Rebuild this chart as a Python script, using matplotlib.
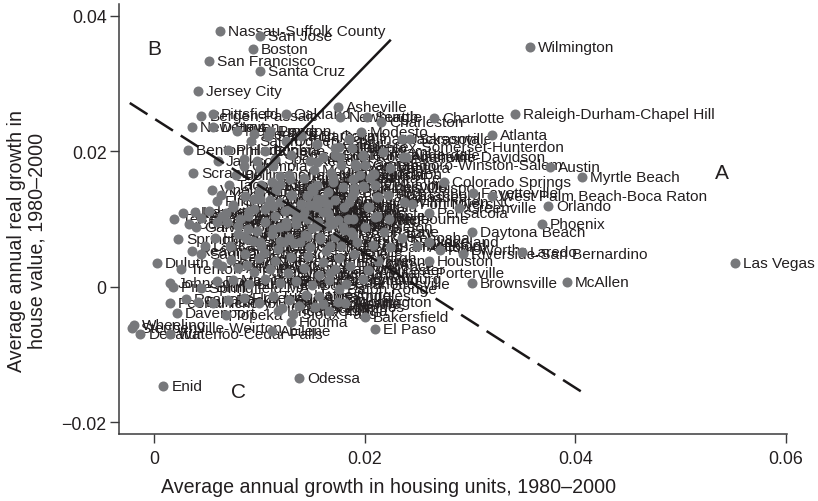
#Housing value growth vs housing unit growth, labelled metro scatter
import matplotlib
matplotlib.use("Agg")
import matplotlib.pyplot as plt

plt.rcParams["font.family"] = ["Liberation Sans", "DejaVu Sans"]

ink = "#231f20"
dot = "#77787b"

outer_names = ["Nassau-Suffolk County", "San Jose", "Boston", "San Francisco", "Santa Cruz", "Wilmington",
               "Jersey City", "Pittsfield", "Oakland", "Asheville", "Newburgh", "Seattle",
               "Charlotte", "Raleigh-Durham-Chapel Hill", "Charleston", "Atlanta", "Sarasota", "Jacksonville",
               "Middlesex-Somerset-Hunterdon", "Greensboro-Winston-Salem", "Nashville-Davidson", "Austin", "Myrtle Beach", "Las Vegas",
               "McAllen", "Brownsville", "Phoenix", "Orlando", "West Palm Beach-Boca Raton", "Colorado Springs",
               "Fayetteville", "Greenville", "Daytona Beach", "Laredo", "Riverside-San Bernardino", "Fort Worth",
               "San Antonio", "Lakeland", "Houston", "Fresno", "Visalia-Tulare-Porterville", "Bakersfield",
               "El Paso", "Baton Rouge", "Los Angeles", "Albany", "Houma", "Abilene",
               "Odessa", "Enid", "Wheeling", "Steubenville-Weirton", "Decatur", "Waterloo-Cedar Falls",
               "Davenport", "Topeka", "Duluth", "Trenton", "Johnstown", "Pine Bluff",
               "Peoria", "Kankakee", "Terre Haute", "Altoona", "Springfield", "Scranton",
               "Vineland", "Flint", "Jackson", "Benton Harbor", "Philadelphia", "Bergen-Passaic",
               "New Haven", "Detroit", "New London", "Santa Barbara"]
outer_x = [.0063, .0101, .0094, .0052, .0101, .0357,
           .0042, .0056, .0125, .0175, .0177, .0202,
           .0266, .0343, .0216, .0321, .0243, .0235,
           .0176, .0200, .0239, .0376, .0406, .0552,
           .0392, .0302, .0368, .0374, .0321, .0275,
           .0303, .0290, .0302, .0349, .0293, .0272,
           .0224, .0261, .0261, .0213, .0167, .0200,
           .0210, .0176, .0157, .0181, .0130, .0112,
           .0138, .0009, -.0019, -.0021, -.0013, .0015,
           .0022, .0068, .0003, .0026, .0015, .0018,
           .0015, .0039, .0019, .0028, .0023, .0037,
           .0055, .0060, .0061, .0032, .0070, .0045,
           .0036, .0056, .0079, .0108]
outer_y = [.0377, .0370, .0351, .0333, .0318, .0353,
           .0289, .0255, .0255, .0265, .0250, .0250,
           .0249, .0255, .0243, .0224, .0218, .0218,
           .0206, .0179, .0191, .0176, .0162, .0035,
           .0007, .0005, .0092, .0119, .0134, .0154,
           .0138, .0116, .0080, .0051, .0048, .0054,
           .0058, .0066, .0038, .0038, .0020, -.0044,
           -.0063, -.0004, -.0014, -.0024, -.0052, -.0066,
           -.0135, -.0147, -.0057, -.0061, -.0070, -.0070,
           -.0039, -.0042, .0035, .0026, .0006, .0000,
           -.0024, .0110, .0100, .0108, .0070, .0168,
           .0142, .0126, .0185, .0201, .0201, .0252,
           .0235, .0235, .0229, .0222]

#Points in the crowded middle, names mostly unreadable so estimated
inner_names = ["Minneapolis", "Portland", "Sacramento", "Denver", "Dallas", "Tampa",
               "Memphis", "Richmond", "Norfolk", "Baltimore", "Washington", "Tucson",
               "Albuquerque", "Salt Lake City", "Kansas City", "Indianapolis", "Columbus", "Cincinnati",
               "Louisville", "Lexington", "Knoxville", "Chattanooga", "Birmingham", "Mobile",
               "Montgomery", "Savannah", "Augusta", "Columbia", "Spartanburg", "Wilmington NC",
               "Fort Myers", "Pensacola", "Tallahassee", "Gainesville", "Ocala", "Naples",
               "Melbourne", "Fort Lauderdale", "Miami", "Anaheim", "San Diego", "Ventura",
               "Stockton", "Modesto", "Salinas", "Vallejo", "Santa Rosa", "Reno",
               "Boise City", "Spokane", "Eugene", "Salem", "Olympia", "Bellingham",
               "Tacoma", "Yakima", "Medford", "Provo", "Ogden", "Fort Collins",
               "Greeley", "Boulder", "Pueblo", "Santa Fe", "Las Cruces", "Lubbock",
               "Amarillo", "Wichita", "Tulsa", "Oklahoma City", "Little Rock", "Shreveport",
               "New Orleans", "Lafayette", "Lake Charles", "Beaumont", "Galveston", "Corpus Christi",
               "Waco", "Killeen", "Tyler", "Longview", "Bryan", "Madison",
               "Milwaukee", "Green Bay", "Appleton", "Racine", "Kenosha", "Rockford",
               "Chicago", "Gary", "Fort Wayne", "South Bend", "Evansville", "Lansing",
               "Grand Rapids", "Ann Arbor", "Kalamazoo", "Toledo", "Akron", "Cleveland",
               "Dayton", "Canton", "Youngstown", "Pittsburgh", "Erie", "Harrisburg",
               "Lancaster", "Reading", "York", "Allentown", "Buffalo", "Rochester",
               "Syracuse", "Utica", "Binghamton", "Hartford", "Providence", "Worcester",
               "Springfield MA", "Portland ME", "Manchester", "Burlington", "Lowell", "Newark",
               "Atlantic City", "Dover", "Hagerstown", "Charlottesville", "Lynchburg", "Roanoke",
               "Durham", "Hickory", "Rocky Mount", "Florence", "Huntsville", "Tuscaloosa",
               "Biloxi", "Hattiesburg", "Clarksville", "Bloomington", "Champaign", "Iowa City",
               "Des Moines", "Omaha", "Lincoln", "Sioux Falls", "Fargo", "Billings",
               "St. Louis", "St. Cloud", "Rochester MN", "La Crosse", "Honolulu", "Anchorage",
               "Charleston WV", "Huntington", "Parkersburg", "Sharon", "Mansfield", "Lima",
               "Muncie", "Kokomo", "Elkhart", "Saginaw", "Jackson MI", "Benton",
               "Yuba City", "Chico", "Redding", "Merced", "Yolo", "San Luis Obispo"]
inner_x = [.0100, .0110, .0120, .0130, .0140, .0150,
           .0160, .0170, .0180, .0190, .0105, .0115,
           .0125, .0135, .0145, .0155, .0165, .0175,
           .0185, .0095, .0112, .0128, .0142, .0152,
           .0168, .0178, .0196, .0210, .0222, .0237,
           .0245, .0261, .0213, .0199, .0204, .0212,
           .0223, .0198, .0217, .0236, .0192, .0224,
           .0209, .0197, .0185, .0172, .0160, .0148,
           .0130, .0115, .0105, .0092, .0085, .0078,
           .0071, .0064, .0095, .0110, .0125, .0140,
           .0155, .0172, .0188, .0205, .0120, .0135,
           .0150, .0165, .0180, .0090, .0082, .0075,
           .0068, .0060, .0052, .0045, .0040, .0033,
           .0085, .0098, .0112, .0128, .0143, .0158,
           .0172, .0187, .0200, .0218, .0235, .0250,
           .0102, .0118, .0133, .0148, .0163, .0178,
           .0193, .0208, .0072, .0086, .0100, .0115,
           .0130, .0146, .0160, .0176, .0190, .0058,
           .0048, .0036, .0065, .0080, .0095, .0110,
           .0127, .0142, .0157, .0172, .0186, .0203,
           .0045, .0060, .0075, .0090, .0105, .0120,
           .0135, .0150, .0166, .0182, .0198, .0030,
           .0042, .0056, .0070, .0085, .0100, .0113,
           .0128, .0144, .0160, .0175, .0122, .0138,
           .0153, .0166, .0118, .0132, .0146, .0160,
           .0108, .0124, .0140, .0156, .0170, .0184,
           .0089, .0102, .0116, .0131, .0147, .0163,
           .0069, .0080, .0094, .0045, .0060, .0073,
           .0088, .0104, .0120, .0155, .0170, .0190]
inner_y = [.0140, .0128, .0152, .0136, .0122, .0146,
           .0130, .0155, .0118, .0140, .0115, .0105,
           .0095, .0110, .0100, .0118, .0108, .0098,
           .0125, .0130, .0155, .0165, .0160, .0172,
           .0168, .0180, .0165, .0150, .0135, .0125,
           .0122, .0108, .0132, .0147, .0117, .0104,
           .0100, .0194, .0199, .0191, .0178, .0175,
           .0166, .0228, .0218, .0205, .0192, .0185,
           .0195, .0188, .0200, .0215, .0178, .0165,
           .0150, .0135, .0225, .0230, .0215, .0222,
           .0210, .0195, .0205, .0160, .0088, .0092,
           .0086, .0090, .0083, .0112, .0100, .0120,
           .0108, .0095, .0112, .0102, .0088, .0092,
           .0075, .0082, .0078, .0072, .0076, .0070,
           .0074, .0080, .0088, .0080, .0072, .0060,
           .0060, .0056, .0064, .0058, .0052, .0060,
           .0066, .0062, .0060, .0048, .0042, .0038,
           .0044, .0046, .0036, .0042, .0048, .0072,
           .0060, .0052, .0030, .0028, .0022, .0026,
           .0020, .0028, .0018, .0026, .0030, .0024,
           -.0002, .0008, .0010, .0004, .0012, .0006,
           .0008, .0002, .0010, .0004, .0012, -.0018,
           -.0022, -.0024, -.0020, -.0016, -.0024, -.0014,
           -.0020, -.0012, -.0026, -.0022, -.0032, -.0028,
           -.0030, -.0036, -.0036, -.0040, .0135, .0125,
           .0120, .0112, .0105, .0096, .0092, .0100,
           .0085, .0150, .0142, .0135, .0120, .0112,
           .0096, .0078, .0068, .0048, .0035, .0040,
           .0032, .0050, .0068, .0150, .0160, .0145]

#Unlabelled dots that make up the solid grey blob
blob_x = [.0085, .0098, .0113, .0129, .0155, .0177, .0191, .0198, .0208, .0198,
          .0189, .0179, .0165, .0151, .0145, .0142, .0155, .0165, .0188, .0203,
          .0212, .0210, .0189, .0179, .0167, .0155, .0145, .0158, .0139, .0123,
          .0113, .0101, .0088, .0086, .0101, .0113, .0089, .0120, .0101, .0189,
          .0167, .0120, .0130, .0095, .0075, .0065, .0135, .0125, .0105, .0080,
          .0150, .0172, .0160]
blob_y = [.0188, .0185, .0178, .0159, .0184, .0191, .0181, .0193, .0166, .0148,
          .0159, .0147, .0139, .0141, .0134, .0110, .0129, .0122, .0134, .0117,
          .0132, .0103, .0100, .0088, .0100, .0089, .0075, .0073, .0066, .0066,
          .0085, .0066, .0070, .0134, .0129, .0119, .0104, .0163, .0173, .0077,
          .0060, .0125, .0115, .0115, .0118, .0105, .0100, .0090, .0095, .0090,
          .0120, .0128, .0110]

region_names = ["A", "B", "C"]
region_x = [.0539, 0, .0080]
region_y = [.0169, .0351, -.0154]

#Solid and dashed lines, end points
solid_x = [.0091, .0224]
solid_y = [.0151, .0363]
dash_x = [-.0023, .0406]
dash_y = [.0271, -.0155]

xticks = [0, .02, .04, .06]
xticklabels = ["0", "0.02", "0.04", "0.06"]
yticks = [-.02, 0, .02, .04]
yticklabels = ["\u22120.02", "0", "0.02", "0.04"]

fig = plt.figure(figsize=(8.18, 5.02), dpi=100)
ax = fig.add_axes([118.7 / 818, 1 - 434.5 / 502, (787 - 118.7) / 818, (434.5 - 5) / 502])

names = outer_names + inner_names
xs = outer_x + inner_x
ys = outer_y + inner_y

for name, x, y in zip(names, xs, ys):
    ax.annotate(name, (x, y), xytext=(8, 0), textcoords="offset pixels", fontsize=11.1,
                color=ink, va="center", ha="left", zorder=1, annotation_clip=False)

ax.scatter(xs + blob_x, ys + blob_y, s=52, color=dot, linewidths=0, zorder=2, clip_on=False)

ax.plot(solid_x, solid_y, color="#1a1718", lw=1.8, zorder=3)
ax.plot(dash_x, dash_y, color="#1a1718", lw=1.8, dashes=(8.4, 3.7), zorder=3)

for name, x, y in zip(region_names, region_x, region_y):
    ax.text(x, y, name, fontsize=15, color=ink, ha="center", va="center", zorder=1)

ax.set_xlim(-.00335, .0601)
ax.set_ylim(-.02165, .0417)
ax.spines["top"].set_visible(False)
ax.spines["right"].set_visible(False)
for side in ["left", "bottom"]:
    ax.spines[side].set_color("#3a3a3c")
    ax.spines[side].set_linewidth(1.1)

ax.set_xticks(xticks, xticklabels)
ax.set_yticks(yticks, yticklabels)
ax.tick_params(length=6.2, width=1.0, color="#3a3a3c", labelcolor=ink, labelsize=12.8)
ax.tick_params(axis="x", pad=6)
ax.tick_params(axis="y", pad=2.5)

fig.text(161 / 818, 1 - 488 / 502, "Average annual growth in housing units, 1980\u20132000",
         fontsize=14.1, color=ink, ha="left", va="center")
fig.text(27 / 818, 1 - 241 / 502, "Average annual real growth in\nhouse value, 1980\u20132000",
         fontsize=14.1, color=ink, ha="center", va="center", rotation=90, linespacing=1.1)

plt.savefig("out.png", dpi=100)
